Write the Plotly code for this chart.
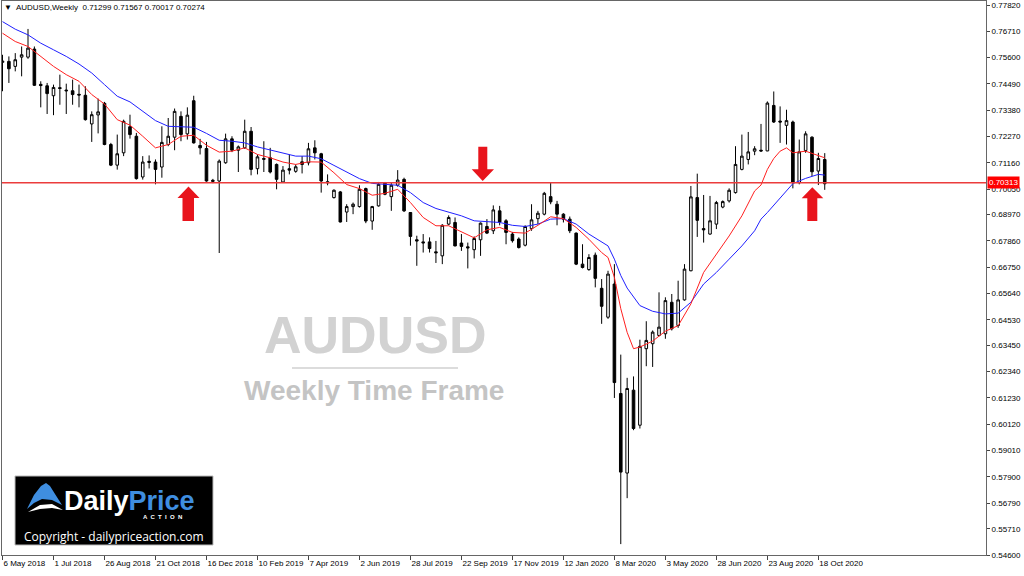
import plotly.graph_objects as go
import pandas as pd

# weekly AUDUSD candles, first bar = week of 6 May 2018
start_week = "2018-05-06"

open_ = [0.7540, 0.7544, 0.7523, 0.7562, 0.7562, 0.7596, 0.7447, 0.7441, 0.7399, 0.7433,
         0.7423, 0.7420, 0.7405, 0.7401, 0.7280, 0.7318, 0.7367, 0.7193, 0.7106, 0.7158,
         0.7268, 0.7228, 0.7056, 0.7122, 0.7119, 0.7098, 0.7193, 0.7224, 0.7312, 0.7238,
         0.7378, 0.7189, 0.7176, 0.7042, 0.7039, 0.7116, 0.7217, 0.7169, 0.7179, 0.7249,
         0.7091, 0.7134, 0.7137, 0.7109, 0.7035, 0.7091, 0.7080, 0.7120, 0.7116, 0.7179,
         0.7154, 0.7036, 0.6969, 0.6993, 0.6908, 0.6931, 0.6931, 0.7007, 0.6870, 0.6934,
         0.7032, 0.6973, 0.7021, 0.7046, 0.6906, 0.6791, 0.6782, 0.6782, 0.6740, 0.6723,
         0.6857, 0.6864, 0.6777, 0.6761, 0.6749, 0.6791, 0.6847, 0.6829, 0.6913, 0.6871,
         0.6815, 0.6794, 0.6768, 0.6838, 0.6880, 0.6899, 0.6973, 0.6941, 0.6899, 0.6878,
         0.6819, 0.6688, 0.6665, 0.6726, 0.6586, 0.6464, 0.6604, 0.6142, 0.5806, 0.6156,
         0.6008, 0.6331, 0.6352, 0.6387, 0.6394, 0.6527, 0.6429, 0.6537, 0.6660, 0.6969,
         0.6838, 0.6815, 0.6857, 0.6929, 0.6955, 0.6990, 0.7088, 0.7130, 0.7165, 0.7169,
         0.7166, 0.7358, 0.7292, 0.7274, 0.7288, 0.7032, 0.7168, 0.7224, 0.7081, 0.71299]
high = [0.7572, 0.7565, 0.7579, 0.7607, 0.7681, 0.7607, 0.7460, 0.7453, 0.7446, 0.7488,
        0.7450, 0.7467, 0.7446, 0.7439, 0.7333, 0.7387, 0.7373, 0.7200, 0.7235, 0.7298,
        0.7319, 0.7242, 0.7144, 0.7147, 0.7130, 0.7270, 0.7305, 0.7345, 0.7333, 0.7350,
        0.7399, 0.7217, 0.7204, 0.7048, 0.7130, 0.7239, 0.7228, 0.7189, 0.7298, 0.7267,
        0.7151, 0.7207, 0.7179, 0.7113, 0.7102, 0.7151, 0.7109, 0.7144, 0.7200, 0.7211,
        0.7158, 0.7067, 0.7004, 0.6997, 0.6941, 0.6948, 0.7021, 0.7011, 0.6934, 0.7035,
        0.7035, 0.7032, 0.7085, 0.7053, 0.6908, 0.6808, 0.6815, 0.6801, 0.6786, 0.6857,
        0.6894, 0.6885, 0.6815, 0.6779, 0.6805, 0.6864, 0.6878, 0.6936, 0.6934, 0.6878,
        0.6824, 0.6801, 0.6852, 0.6941, 0.6913, 0.6993, 0.7032, 0.6955, 0.6903, 0.6889,
        0.6822, 0.6772, 0.6730, 0.6737, 0.6625, 0.6660, 0.6688, 0.6306, 0.6208, 0.6214,
        0.6369, 0.6447, 0.6408, 0.6569, 0.6548, 0.6562, 0.6618, 0.6688, 0.7018, 0.7070,
        0.6980, 0.6976, 0.6955, 0.6957, 0.7008, 0.7186, 0.7235, 0.7246, 0.7186, 0.7280,
        0.7375, 0.7417, 0.7354, 0.7340, 0.7294, 0.7214, 0.7249, 0.7228, 0.7158, 0.71567]
low = [0.7418, 0.7453, 0.7502, 0.7481, 0.7555, 0.7440, 0.7350, 0.7322, 0.7317, 0.7361,
       0.7322, 0.7361, 0.7350, 0.7294, 0.7204, 0.7240, 0.7190, 0.7102, 0.7087, 0.7144,
       0.7218, 0.7045, 0.7045, 0.7092, 0.7025, 0.7053, 0.7186, 0.7169, 0.7207, 0.7214,
       0.7197, 0.7151, 0.7036, 0.7030, 0.6735, 0.7112, 0.7161, 0.7077, 0.7175, 0.7063,
       0.7067, 0.7077, 0.7071, 0.7004, 0.7032, 0.7067, 0.7074, 0.7071, 0.7105, 0.7130,
       0.6990, 0.7021, 0.6965, 0.6864, 0.6866, 0.6899, 0.6927, 0.6861, 0.6833, 0.6931,
       0.6979, 0.6913, 0.7015, 0.6908, 0.6766, 0.6681, 0.6737, 0.6737, 0.6693, 0.6688,
       0.6852, 0.6763, 0.6744, 0.6670, 0.6712, 0.6723, 0.6815, 0.6815, 0.6852, 0.6772,
       0.6779, 0.6754, 0.6763, 0.6829, 0.6857, 0.6894, 0.6941, 0.6852, 0.6864, 0.6819,
       0.6684, 0.6670, 0.6660, 0.6590, 0.6436, 0.6457, 0.6123, 0.5506, 0.5700, 0.5987,
       0.5994, 0.6257, 0.6254, 0.6383, 0.6373, 0.6408, 0.6419, 0.6534, 0.6658, 0.6803,
       0.6779, 0.6812, 0.6836, 0.6924, 0.6948, 0.6986, 0.7084, 0.7109, 0.7148, 0.7162,
       0.7165, 0.7284, 0.7200, 0.7193, 0.7008, 0.7025, 0.7158, 0.7060, 0.7022, 0.70017]
close = [0.7545, 0.7513, 0.7551, 0.7572, 0.7600, 0.7443, 0.7442, 0.7408, 0.7434, 0.7430,
         0.7420, 0.7404, 0.7402, 0.7298, 0.7319, 0.7331, 0.7193, 0.7106, 0.7154, 0.7291,
         0.7235, 0.7049, 0.7119, 0.7118, 0.7088, 0.7202, 0.7228, 0.7333, 0.7235, 0.7317,
         0.7200, 0.7179, 0.7039, 0.7038, 0.7123, 0.7217, 0.7169, 0.7183, 0.7249, 0.7088,
         0.7141, 0.7131, 0.7077, 0.7046, 0.7085, 0.7085, 0.7099, 0.7109, 0.7175, 0.7158,
         0.7039, 0.7032, 0.7000, 0.6866, 0.6931, 0.6941, 0.7004, 0.6870, 0.6931, 0.7025,
         0.6983, 0.7021, 0.7043, 0.6913, 0.6805, 0.6786, 0.6778, 0.6754, 0.6736, 0.6852,
         0.6885, 0.6765, 0.6763, 0.6757, 0.6796, 0.6861, 0.6819, 0.6917, 0.6866, 0.6822,
         0.6787, 0.6758, 0.6847, 0.6875, 0.6903, 0.6987, 0.6951, 0.6899, 0.6878, 0.6829,
         0.6688, 0.6674, 0.6716, 0.6628, 0.6510, 0.6646, 0.6188, 0.5810, 0.6163, 0.5994,
         0.6341, 0.6366, 0.6401, 0.6422, 0.6534, 0.6415, 0.6537, 0.6667, 0.6972, 0.6873,
         0.6833, 0.6871, 0.6948, 0.6952, 0.7000, 0.7109, 0.7144, 0.7162, 0.7175, 0.7166,
         0.7368, 0.7288, 0.7288, 0.7294, 0.7032, 0.7162, 0.7238, 0.7078, 0.7134, 0.70274]

# moving averages (bar index -> value)
red_ma_bar = [0, 2, 4, 6, 8, 10, 12, 14, 16, 18, 20, 22, 24, 26, 28, 30, 32, 34, 36, 38,
              40, 42, 44, 46, 48, 50, 52, 54, 56, 58, 60, 62, 64, 66, 68, 70, 72, 74, 76, 78,
              80, 82, 84, 86, 88, 90, 92, 94, 95, 96, 97, 98, 99, 100, 102, 104, 106, 108,
              110, 112, 114, 116, 118, 119, 120, 121, 122, 123, 124, 126, 128, 129]
red_ma = [0.7663, 0.7628, 0.7607, 0.7565, 0.7523, 0.7488, 0.7460, 0.7404, 0.7364, 0.7298,
          0.7275, 0.7228, 0.7179, 0.7193, 0.7228, 0.7232, 0.7190, 0.7161, 0.7165, 0.7179,
          0.7151, 0.7137, 0.7119, 0.7109, 0.7120, 0.7119, 0.7074, 0.7024, 0.7007, 0.6979,
          0.6987, 0.7004, 0.6948, 0.6885, 0.6850, 0.6850, 0.6824, 0.6799, 0.6833, 0.6843,
          0.6822, 0.6819, 0.6852, 0.6888, 0.6880, 0.6843, 0.6793, 0.6737, 0.6716, 0.6632,
          0.6500, 0.6400, 0.6331, 0.6338, 0.6363, 0.6405, 0.6428, 0.6520, 0.6653, 0.6730,
          0.6807, 0.6892, 0.6997, 0.7022, 0.7088, 0.7134, 0.7165, 0.7179, 0.7158, 0.7165,
          0.7148, 0.7137]
blue_ma_bar = [0, 2, 4, 6, 8, 10, 12, 14, 16, 18, 20, 22, 24, 26, 28, 30, 32, 34, 36, 38,
               40, 42, 44, 46, 48, 50, 52, 54, 56, 58, 60, 62, 64, 66, 68, 70, 72, 74, 76, 78,
               80, 82, 84, 86, 88, 90, 92, 94, 95, 96, 97, 98, 100, 102, 104, 106, 108, 110,
               112, 114, 116, 118, 119, 120, 122, 124, 126, 128, 129]
blue_ma = [0.7712, 0.7680, 0.7656, 0.7621, 0.7593, 0.7565, 0.7533, 0.7495, 0.7446, 0.7397,
           0.7373, 0.7333, 0.7294, 0.7270, 0.7268, 0.7266, 0.7240, 0.7211, 0.7207, 0.7200,
           0.7183, 0.7169, 0.7155, 0.7144, 0.7144, 0.7133, 0.7105, 0.7077, 0.7049, 0.7029,
           0.7025, 0.7021, 0.6990, 0.6948, 0.6923, 0.6909, 0.6892, 0.6871, 0.6866, 0.6864,
           0.6852, 0.6847, 0.6857, 0.6878, 0.6880, 0.6857, 0.6815, 0.6780, 0.6765, 0.6709,
           0.6640, 0.6587, 0.6513, 0.6489, 0.6478, 0.6481, 0.6527, 0.6604, 0.6653, 0.6709,
           0.6765, 0.6829, 0.6878, 0.6906, 0.6969, 0.7028, 0.7050, 0.7067, 0.7064]

level = 0.70313
price_ticks = [0.77820, 0.76710, 0.75600, 0.74490, 0.73380, 0.72270, 0.71160, 0.70050,
               0.68970, 0.67860, 0.66750, 0.65640, 0.64530, 0.63450, 0.62340, 0.61230,
               0.60120, 0.59010, 0.57900, 0.56790, 0.55710, 0.54600]
date_labels = ["6 May 2018", "1 Jul 2018", "26 Aug 2018", "21 Oct 2018", "16 Dec 2018",
               "10 Feb 2019", "7 Apr 2019", "2 Jun 2019", "28 Jul 2019", "22 Sep 2019",
               "17 Nov 2019", "12 Jan 2020", "8 Mar 2020", "3 May 2020", "28 Jun 2020",
               "23 Aug 2020", "18 Oct 2020"]
header_text = "▼  AUDUSD,Weekly  0.71299 0.71567 0.70017 0.70274"

dates = pd.date_range(start_week, periods=len(close), freq="7D")
week = pd.Timedelta(days=7)

# plot area in screen pixels (for overlays)
PL, PR, PT, PB = 2, 986, 1, 555


def px(x):
    return (x - PL) / (PR - PL)


def py(y):
    return (PB - y) / (PB - PT)


def poly_path(pts):
    return "M " + " L ".join(f"{px(x):.5f},{py(y):.5f}" for x, y in pts) + " Z"


def note(x, y, text, size, color, family="Liberation Sans", anchor="center"):
    return dict(x=px(x), y=py(y), xref="paper", yref="paper", xanchor=anchor,
                yanchor="middle", text=text, showarrow=False,
                font=dict(family=family, size=size, color=color))


fig = go.Figure()

fig.add_trace(go.Candlestick(
    x=dates, open=open_, high=high, low=low, close=close,
    increasing=dict(fillcolor="white", line=dict(color="black", width=1)),
    decreasing=dict(fillcolor="black", line=dict(color="black", width=1)),
    whiskerwidth=0,
    showlegend=False,
))

fig.add_trace(go.Scatter(
    x=dates[blue_ma_bar], y=blue_ma, mode="lines",
    line=dict(color="#2020ff", width=1), showlegend=False, hoverinfo="skip",
))
fig.add_trace(go.Scatter(
    x=dates[red_ma_bar], y=red_ma, mode="lines",
    line=dict(color="#ff2020", width=1), showlegend=False, hoverinfo="skip",
))

# support line
fig.add_shape(type="line", xref="paper", x0=0, x1=1, yref="y", y0=level, y1=level,
              line=dict(color="rgb(235,60,60)", width=1.5))

# red block arrows
red = "#e8141c"
up1 = [(188.5, 186.5), (199.5, 198), (194, 198), (194, 221), (182.5, 221), (182.5, 198), (177.5, 198)]
down2 = [(482.7, 181), (494, 169.3), (487.3, 169.3), (487.3, 146.7), (478.3, 146.7), (478.3, 169.3), (471.7, 169.3)]
up3 = [(812.3, 187.3), (823.3, 198.3), (817.3, 198.3), (817.3, 221), (807.3, 221), (807.3, 198.3), (801.7, 198.3)]
for pts in (up1, down2, up3):
    fig.add_shape(type="path", xref="paper", yref="paper", path=poly_path(pts),
                  fillcolor=red, line=dict(width=0))

# faint rule in the watermark
fig.add_shape(type="line", xref="paper", yref="paper",
              x0=px(292), x1=px(458), y0=py(368), y1=py(368),
              line=dict(color="#dcdcdc", width=2))

# logo box
fig.add_shape(type="rect", xref="paper", yref="paper",
              x0=px(15), x1=px(213), y0=py(545), y1=py(476),
              fillcolor="black", line=dict(color="#bbbbbb", width=1))
fig.add_shape(type="path", xref="paper", yref="paper",
              path=poly_path([(27, 509), (34, 495), (41, 486), (46, 483), (50, 486),
                              (55, 494), (62, 505), (52, 500), (42, 499), (34, 503)]),
              fillcolor="#3f8ee0", line=dict(width=0))
fig.add_shape(type="path", xref="paper", yref="paper",
              path=poly_path([(28, 512), (40, 505), (52, 504), (63, 510), (52, 508), (40, 509)]),
              fillcolor="white", line=dict(width=0))

annotations = [
    note(2, 7, header_text, 8, "black", anchor="left"),
    dict(x=1, y=level, xref="paper", yref="y", xanchor="left", yanchor="middle", xshift=1,
         text=f"{level:.5f}", showarrow=False, bgcolor="#ff0000", borderpad=1,
         font=dict(family="Liberation Sans", size=8, color="white")),
    note(375, 335, "<b>AUDUSD</b>", 52, "#d2d2d2"),
    note(374, 390, "<b>Weekly Time Frame</b>", 28, "#c4c4c4"),
    note(62, 501, "<b>Daily</b><b><span style='color:#3f8ee0'>Price</span></b>", 27, "white",
         anchor="left"),
    note(162, 517, "<b>A  C  T  I  O  N</b>", 6, "white"),
    note(114, 536, "Copyright - dailypriceaction.com", 12, "white", family="Open Sans"),
]

x0 = dates[0] - 0.08 * week
x1 = dates[0] + 154.3 * week

fig.update_layout(
    width=1024, height=576,
    margin=dict(l=PL, r=1024 - PR, t=PT, b=576 - PB, autoexpand=False),
    paper_bgcolor="white", plot_bgcolor="white",
    showlegend=False,
    boxgap=0.42,
    annotations=annotations,
    font=dict(family="Liberation Sans", size=8, color="black"),
    xaxis=dict(
        type="date", range=[x0, x1], rangeslider=dict(visible=False),
        tickvals=dates[::8], ticktext=date_labels, ticklabelposition="outside right",
        tickangle=0, automargin=False,
        ticks="outside", ticklen=4, tickcolor="#444",
        showgrid=False, zeroline=False,
        showline=True, linecolor="#666", mirror=True,
        tickfont=dict(family="Liberation Sans", size=8, color="black"),
    ),
    yaxis=dict(
        side="right", range=[0.5460, 0.7799], automargin=False,
        tickvals=price_ticks, tickformat=".5f",
        ticks="outside", ticklen=3, tickcolor="#444",
        showgrid=False, zeroline=False,
        showline=True, linecolor="#666", mirror=True,
        tickfont=dict(family="Liberation Sans", size=8, color="black"),
    ),
)

# the page body has a default 8px margin; drop it so the figure sits at 0,0
fig.write_html("out.html", config={"displayModeBar": False},
               post_script="document.body.style.margin='0px';")
